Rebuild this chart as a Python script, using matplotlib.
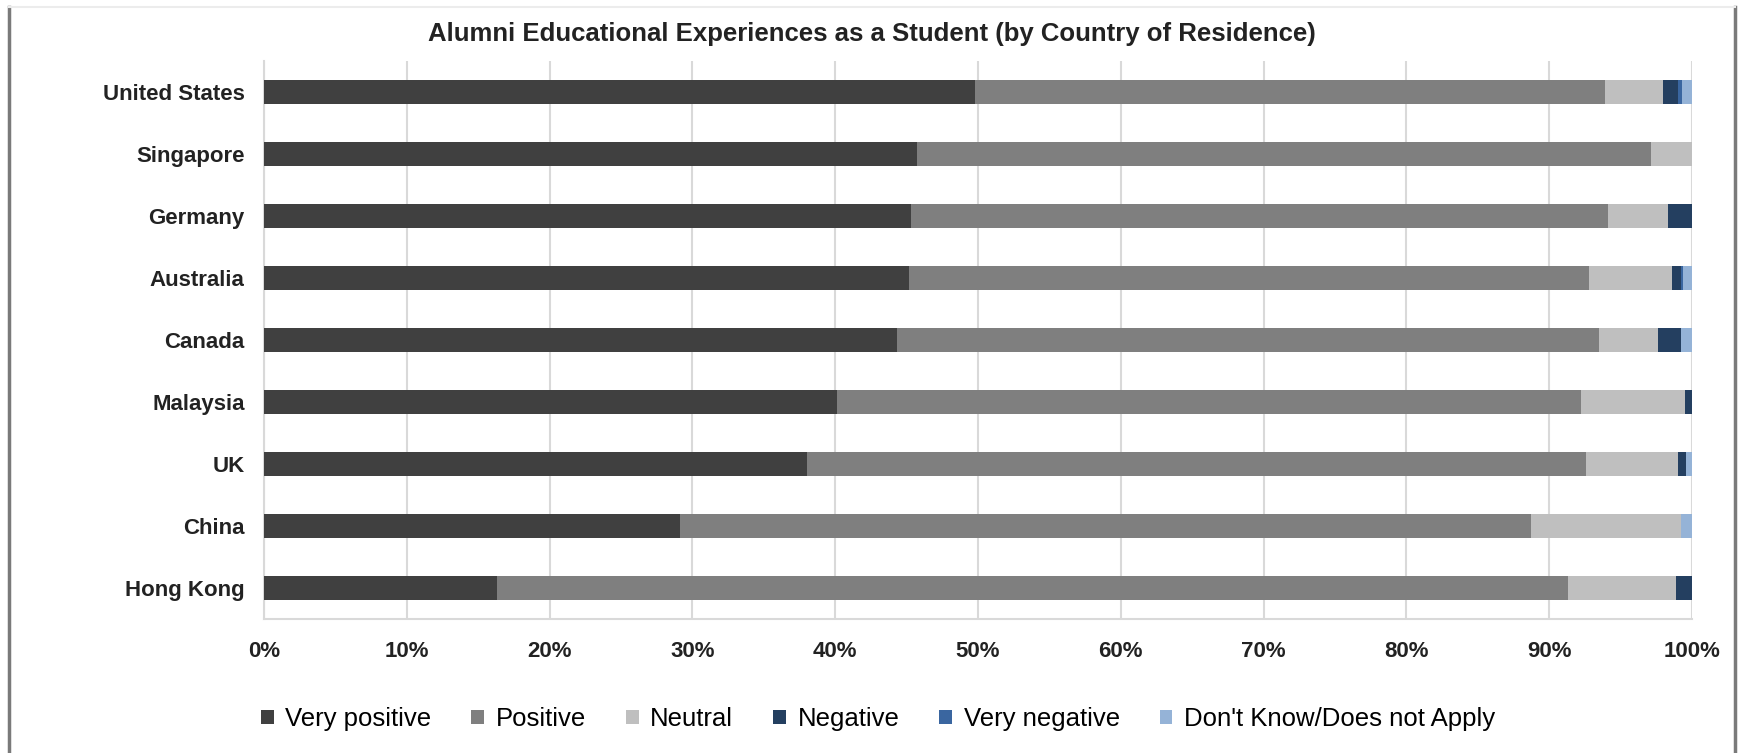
import numpy as np
import matplotlib.pyplot as plt
from matplotlib.patches import Patch
from matplotlib.lines import Line2D

plt.rcParams['font.family'] = ['Liberation Sans', 'DejaVu Sans']

# Countries, top to bottom
countries = ['United States', 'Singapore', 'Germany', 'Australia', 'Canada',
             'Malaysia', 'UK', 'China', 'Hong Kong']

# Share of responses per country (%)
very_positive = [49.8, 45.7, 45.3, 45.2, 44.3, 40.1, 38.0, 29.1, 16.3]
positive      = [44.1, 51.4, 48.8, 47.6, 49.2, 52.1, 54.6, 59.6, 75.0]
neutral       = [4.1, 2.9, 4.2, 5.8, 4.1, 7.3, 6.4, 10.5, 7.6]
negative      = [1.0, 0.0, 1.7, 0.6, 1.6, 0.5, 0.6, 0.0, 1.1]
very_negative = [0.3, 0.0, 0.0, 0.2, 0.0, 0.0, 0.0, 0.0, 0.0]
dont_know     = [0.7, 0.0, 0.0, 0.6, 0.8, 0.0, 0.4, 0.8, 0.0]

series = [very_positive, positive, neutral, negative, very_negative, dont_know]
labels = ['Very positive', 'Positive', 'Neutral', 'Negative', 'Very negative',
          "Don't Know/Does not Apply"]
colors = ['#404040', '#7f7f7f', '#bfbfbf', '#243f60', '#3a66a0', '#95b3d7']

W, H = 1741, 753
fig = plt.figure(figsize=(W / 100, H / 100), dpi=100)
ax = fig.add_axes([264 / W, 1 - 619 / H, (1692 - 264) / W, (619 - 61) / H])

y = np.arange(len(countries))
left = np.zeros(len(countries))
for vals, lab, col in zip(series, labels, colors):
    vals = np.array(vals) / 100
    ax.barh(y, vals, left=left, height=0.38, color=col, label=lab, zorder=3)
    left += vals

ax.set_xlim(0, 1)
ax.set_ylim(len(countries) - 0.5, -0.5)
ax.set_yticks(y)
ax.set_yticklabels(countries, fontsize=16, fontweight='bold', color='#222222')
ax.set_xticks(np.linspace(0, 1, 11))
ax.set_xticklabels([f'{int(v)}%' for v in np.linspace(0, 100, 11)],
                   fontsize=16, fontweight='bold', color='#222222')
ax.tick_params(axis='both', length=0)
ax.tick_params(axis='y', pad=14)
ax.tick_params(axis='x', pad=16)
ax.grid(axis='x', color='#d9d9d9', linewidth=1.5, zorder=0)
for side in ['top', 'right']:
    ax.spines[side].set_visible(False)
for side in ['left', 'bottom']:
    ax.spines[side].set_color('#d9d9d9')
    ax.spines[side].set_linewidth(1.5)

fig.text(872 / W, 1 - 34 / H,
         'Alumni Educational Experiences as a Student (by Country of Residence)',
         ha='center', va='center', fontsize=18.5, fontweight='bold', color='#222222')

handles = [Patch(facecolor=c, edgecolor='none') for c in colors]
fig.legend(handles, labels, loc='center', bbox_to_anchor=(878 / W, 1 - 719 / H),
           ncol=6, frameon=False, fontsize=18.5, handlelength=0.5,
           handleheight=0.5, handletextpad=0.45, columnspacing=1.55)

# outer frame lines
fig.add_artist(Line2D([9 / W, 9 / W], [0, 1 - 7 / H], transform=fig.transFigure,
                      color='#7a7a7a', linewidth=2.5))
fig.add_artist(Line2D([1735 / W, 1735 / W], [0, 1 - 7 / H], transform=fig.transFigure,
                      color='#7a7a7a', linewidth=2.5))
fig.add_artist(Line2D([9 / W, 1735 / W], [1 - 7 / H, 1 - 7 / H], transform=fig.transFigure,
                      color='#ececec', linewidth=1.5))

fig.savefig('out.png', dpi=100)
